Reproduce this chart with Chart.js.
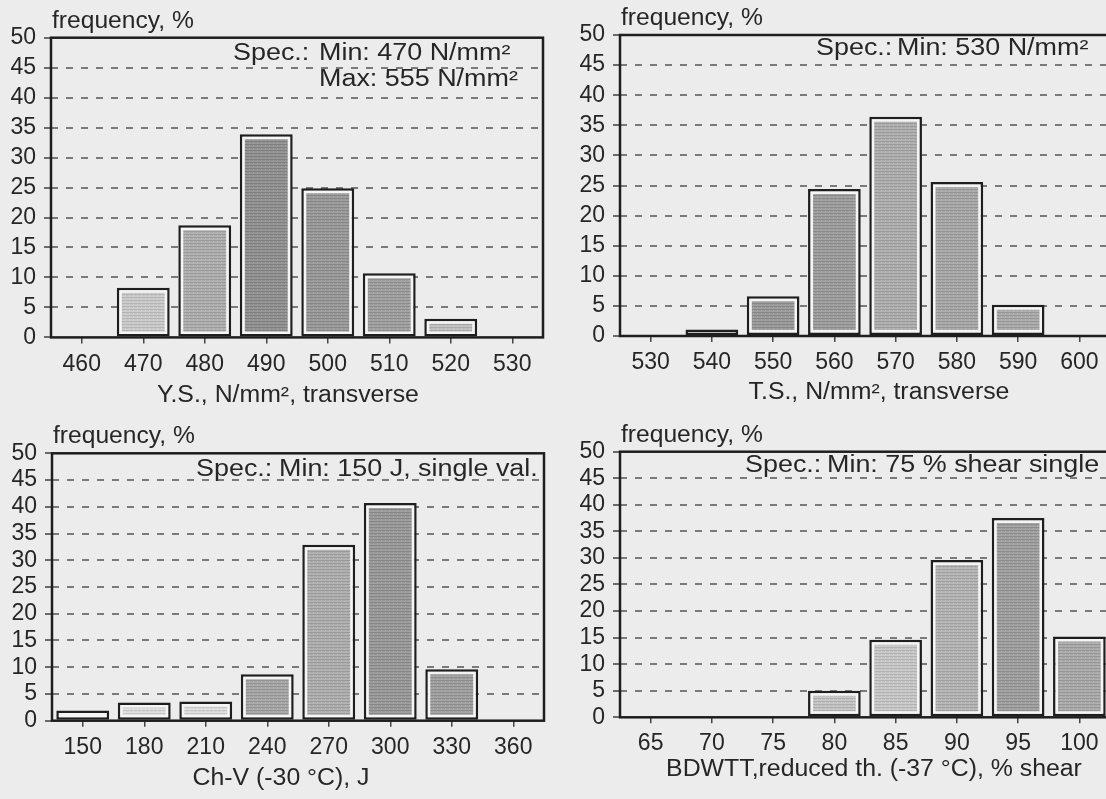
<!DOCTYPE html>
<html>
<head>
<meta charset="utf-8">
<script src="https://cdn.jsdelivr.net/npm/chart.js@4.4.1/dist/chart.umd.min.js"></script>
<style>
  html, body { margin: 0; padding: 0; background: #ececec; overflow: hidden; }
  body { width: 1106px; height: 799px; position: relative; }
  .panel { position: absolute; }
  .panel canvas { display: block; }
</style>
</head>
<body>
<div class="panel" style="left:0;top:0"><canvas id="ys" width="560" height="410"></canvas></div>
<div class="panel" style="left:560px;top:0"><canvas id="ts" width="560" height="410"></canvas></div>
<div class="panel" style="left:0;top:410px"><canvas id="cv" width="560" height="389"></canvas></div>
<div class="panel" style="left:560px;top:410px"><canvas id="bd" width="560" height="389"></canvas></div>
<script>
// histogram data, frequency in %
const ysLabels = ["460", "470", "480", "490", "500", "510", "520", "530"];
const ysValues = [0, 8.3, 18.7, 33.9, 24.9, 10.7, 3.1, 0];

const tsLabels = ["530", "540", "550", "560", "570", "580", "590", "600"];
const tsValues = [0, 1.1, 6.6, 24.4, 36.4, 25.6, 5.2, 0];

const cvLabels = ["150", "180", "210", "240", "270", "300", "330", "360"];
const cvValues = [1.9, 3.4, 3.6, 8.7, 32.9, 40.7, 9.6, 0];

const bdLabels = ["65", "70", "75", "80", "85", "90", "95", "100"];
const bdValues = [0, 0, 0, 5.0, 14.6, 29.6, 37.5, 15.2];

const FONT = "'Liberation Sans', Arial, sans-serif";
const INK = "#262626";

// scanned-looking fill: grey with faint horizontal streaks
function shade(g) {
  const c = document.createElement("canvas");
  c.width = 4; c.height = 3;
  const x = c.getContext("2d");
  const rows = [g - 16, g, g + 10];
  rows.forEach((v, i) => {
    x.fillStyle = `rgb(${v},${v},${v})`;
    x.fillRect(0, i, 4, 1);
  });
  x.fillStyle = `rgb(${g + 18},${g + 18},${g + 18})`;
  x.fillRect(1, 1, 1, 1);
  return x.createPattern(c, "repeat");
}

// text a bit wider than the font, like the scanned lettering
function wideText(ctx, text, x, y, sx) {
  ctx.save();
  ctx.translate(x, y);
  ctx.scale(sx, 1);
  ctx.fillText(text, 0, 0);
  ctx.restore();
}

// frame round the plot area + the free texts
const framePlugin = {
  id: "frame",
  afterDatasetsDraw(chart, args, opts) {
    const { ctx, chartArea: a } = chart;
    ctx.save();
    ctx.strokeStyle = "#1e1e1e";
    ctx.lineWidth = 2.5;
    ctx.strokeRect(a.left, a.top, a.right - a.left, a.bottom - a.top);

    ctx.fillStyle = INK;
    ctx.font = "23px " + FONT;
    ctx.textAlign = "left";
    ctx.textBaseline = "alphabetic";
    wideText(ctx, "frequency, %", a.left + 1, a.top - 10, 1.07);

    ctx.textBaseline = "middle";
    (opts.lines || []).forEach(l => {
      wideText(ctx, l.text, a.left + l.x, a.top + l.y, 1.17);
    });

    // axis title
    const t = opts.title;
    ctx.textAlign = "center";
    wideText(ctx, t.text, t.cx - opts.box.x, t.cy - opts.box.y, 1.08);
    ctx.restore();
  }
};

function drawPanel(id, box, area, labels, values, greys, title, specLines) {
  new Chart(document.getElementById(id), {
    type: "bar",
    data: {
      labels: labels,
      datasets: [
        {
          data: values,
          backgroundColor: greys.map(shade),
          borderColor: "rgba(0,0,0,0)",
          borderWidth: 5,
          borderSkipped: false,
          grouped: false,
          barPercentage: 0.86,
          categoryPercentage: 1
        },
        {
          data: values,
          backgroundColor: "#f5f5f5",
          borderColor: "#1e1e1e",
          borderWidth: 2.5,
          borderSkipped: false,
          grouped: false,
          barPercentage: 0.86,
          categoryPercentage: 1
        }
      ]
    },
    options: {
      responsive: false,
      animation: false,
      layout: {
        padding: { top: area.t - box.y, right: box.x + box.w - area.r, left: 0, bottom: 0 }
      },
      plugins: {
        legend: { display: false },
        tooltip: { enabled: false },
        frame: { lines: specLines, title: title, box: box }
      },
      scales: {
        x: {
          offset: true,
          grid: { offset: false, drawOnChartArea: false, tickLength: 6, color: "#444", lineWidth: 1.5 },
          border: { display: false },
          ticks: { font: { family: FONT, size: 23 }, color: INK, padding: 7, maxRotation: 0, autoSkip: false },
          afterFit: s => { s.height = box.y + box.h - area.b; }
        },
        y: {
          min: 0,
          max: 50,
          ticks: { stepSize: 5, autoSkip: false, font: { family: FONT, size: 23 }, color: INK, padding: 8 },
          grid: {
            color: c => (c.tick.value === 0 || c.tick.value === 50) ? "rgba(0,0,0,0)" : "#7a7a7a",
            lineWidth: 2,
            tickLength: 7,
            tickColor: "#6a6a6a",
            tickWidth: 2,
            tickBorderDash: []
          },
          border: { display: false, dash: [7, 8] },
          afterFit: s => { s.width = area.l - box.x; }
        }
      }
    },
    plugins: [framePlugin]
  });
}

drawPanel("ys", { x: 0, y: 0, w: 560, h: 410 }, { l: 51, t: 37.7, r: 543, b: 337.4 },
  ysLabels, ysValues,
  [200, 196, 170, 142, 150, 156, 186, 200],
  { text: "Y.S., N/mm², transverse", cx: 288, cy: 396 },
  [{ text: "Spec.:", x: 182, y: 16 }, { text: "Min: 470 N/mm²", x: 268, y: 16 }, { text: "Max: 555 N/mm²", x: 268, y: 42 }]);

drawPanel("ts", { x: 560, y: 0, w: 560, h: 410 }, { l: 620, t: 35, r: 1110, b: 336 },
  tsLabels, tsValues,
  [200, 224, 150, 154, 170, 164, 166, 200],
  { text: "T.S., N/mm², transverse", cx: 879, cy: 393 },
  [{ text: "Spec.:", x: 196, y: 14 }, { text: "Min: 530 N/mm²", x: 277, y: 14 }]);

drawPanel("cv", { x: 0, y: 410, w: 560, h: 389 }, { l: 52, t: 453.3, r: 544, b: 720.7 },
  cvLabels, cvValues,
  [236, 214, 214, 162, 170, 150, 156, 200],
  { text: "Ch-V (-30 °C), J", cx: 281, cy: 779 },
  [{ text: "Spec.:", x: 144, y: 16 }, { text: "Min: 150 J, single val.", x: 227, y: 16 }]);

drawPanel("bd", { x: 560, y: 410, w: 560, h: 389 }, { l: 620, t: 451.7, r: 1110, b: 717.3 },
  bdLabels, bdValues,
  [200, 200, 200, 190, 194, 176, 156, 166],
  { text: "BDWTT,reduced th. (-37 °C), % shear", cx: 874, cy: 770 },
  [{ text: "Spec.:", x: 125, y: 13.5 }, { text: "Min: 75 % shear single", x: 207, y: 13.5 }]);
</script>
</body>
</html>
